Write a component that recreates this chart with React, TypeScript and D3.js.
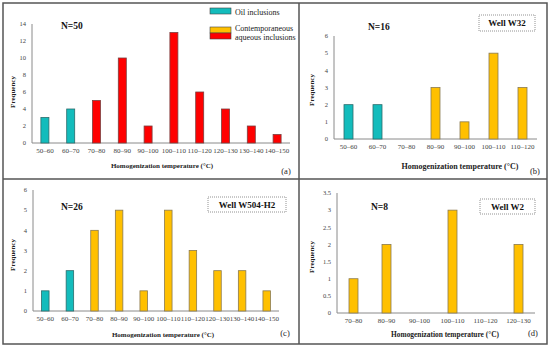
import React from 'react';
import * as d3 from 'd3';

// panel (a) - all samples
const catsA = ['50–60', '60–70', '70–80', '80–90', '90–100', '100–110', '110–120', '120–130', '130–140', '140–150'];
const valsA = [3, 4, 5, 10, 2, 13, 6, 4, 2, 1];
const kindA = ['oil', 'oil', 'aq', 'aq', 'aq', 'aq', 'aq', 'aq', 'aq', 'aq'];

// panel (b) - Well W32
const catsB = ['50–60', '60–70', '70–80', '80–90', '90–100', '100–110', '110–120'];
const valsB = [2, 2, 0, 3, 1, 5, 3];
const kindB = ['oil', 'oil', 'con', 'con', 'con', 'con', 'con'];

// panel (c) - Well W504-H2
const catsC = ['50–60', '60–70', '70–80', '80–90', '90–100', '100–110', '110–120', '120–130', '130–140', '140–150'];
const valsC = [1, 2, 4, 5, 1, 5, 3, 2, 2, 1];
const kindC = ['oil', 'oil', 'con', 'con', 'con', 'con', 'con', 'con', 'con', 'con'];

// panel (d) - Well W2
const catsD = ['70–80', '80–90', '90–100', '100–110', '110–120', '120–130'];
const valsD = [1, 2, 0, 3, 0, 2];
const kindD = ['con', 'con', 'con', 'con', 'con', 'con'];

const legendLabels = ['Oil inclusions', 'Contemporaneous', 'aqueous inclusions'];

const fill: Record<string, string> = { oil: '#13bcbc', con: '#ffc000', aq: '#ff0000' };
const edge: Record<string, string> = { oil: '#2b6c6c', con: '#8a7a50', aq: '#7a4040' };

const serif = '"Liberation Serif", "Times New Roman", serif';

type PanelProps = {
  cats: string[]; vals: number[]; kinds: string[];
  left: number; right: number; top: number; bottom: number;
  yMax: number; yStep: number; barW: number;
  n: string; nx: number; ny: number;
  tag: string; tagX: number; tagY: number;
  titleX: number; titleY: number; titleSize: number; freqX: number; freqY: number;
  well?: { text: string; x0: number; x1: number; y0: number; y1: number };
};

const Panel = (p: PanelProps) => {
  const x = d3.scaleBand().domain(p.cats).range([p.left, p.right]);
  const y = d3.scaleLinear().domain([0, p.yMax]).range([p.bottom, p.top]);
  const ticks = d3.range(0, p.yMax + p.yStep / 2, p.yStep);
  return (
    <g fontFamily={serif}>
      <line x1={p.left} x2={p.left} y1={p.top} y2={p.bottom} stroke="#8a8a8a" strokeWidth={1} />
      <line x1={p.left} x2={p.right} y1={p.bottom} y2={p.bottom} stroke="#8a8a8a" strokeWidth={1} />
      {ticks.map(t => (
        <text key={t} x={p.left - 6} y={y(t)} dy="0.35em" textAnchor="end" fontSize={6.5} fill="#444">{String(+t.toFixed(1))}</text>
      ))}
      {p.cats.map((c, i) => {
        const cx = (x(c) as number) + x.bandwidth() / 2;
        return (
          <g key={c}>
            {p.vals[i] > 0 && (
              <rect x={cx - p.barW / 2} y={y(p.vals[i])} width={p.barW} height={p.bottom - y(p.vals[i])}
                fill={fill[p.kinds[i]]} stroke={edge[p.kinds[i]]} strokeWidth={0.8} />
            )}
            <text x={cx} y={p.bottom + 8} dy="0.35em" textAnchor="middle" fontSize={7} fill="#444">{c}</text>
          </g>
        );
      })}
      <text x={p.titleX} y={p.titleY} dy="0.35em" textAnchor="middle" fontSize={p.titleSize} fontWeight="bold" fill="#222">
        Homogenization temperature (°C)
      </text>
      <text transform={`translate(${p.freqX},${p.freqY}) rotate(-90)`} dy="0.35em" textAnchor="middle" fontSize={7} fontWeight="bold" fill="#222">
        Frequency
      </text>
      <text x={p.nx} y={p.ny} dy="0.35em" fontSize={9.5} fontWeight="bold" fill="#111">{p.n}</text>
      <text x={p.tagX} y={p.tagY} dy="0.35em" textAnchor="middle" fontSize={8.5} fill="#222">{p.tag}</text>
      {p.well && (
        <g>
          <rect x={p.well.x0} y={p.well.y0} width={p.well.x1 - p.well.x0} height={p.well.y1 - p.well.y0}
            fill="#fff" stroke="#777" strokeWidth={0.8} strokeDasharray="1,1" />
          <text x={(p.well.x0 + p.well.x1) / 2} y={(p.well.y0 + p.well.y1) / 2} dy="0.35em" textAnchor="middle"
            fontSize={9} fontWeight="bold" fill="#111">{p.well.text}</text>
        </g>
      )}
    </g>
  );
};

const App = () => {
  const legendKinds = ['oil', 'con', 'aq'];
  const legendY = [8, 27, 33];
  return (
    <svg width={550} height={347} style={{ position: 'absolute', left: 0, top: 0, background: '#fff' }}>
      <rect x={3} y={3} width={544} height={341} fill="#fff" stroke="#555" strokeWidth={1.5} />
      <line x1={299} x2={299} y1={3} y2={344} stroke="#555" strokeWidth={1.5} />
      <line x1={3} x2={547} y1={179} y2={179} stroke="#555" strokeWidth={1.5} />

      <Panel cats={catsA} vals={valsA} kinds={kindA} left={32} right={290} top={24} bottom={143}
        yMax={14} yStep={2} barW={8} n="N=50" nx={61} ny={26} tag="(a)" tagX={286} tagY={171}
        titleX={162} titleY={166} titleSize={7} freqX={13} freqY={92} />
      <Panel cats={catsB} vals={valsB} kinds={kindB} left={334} right={537} top={36} bottom={139}
        yMax={6} yStep={1} barW={9} n="N=16" nx={368} ny={27} tag="(b)" tagX={535} tagY={171}
        titleX={460} titleY={166} titleSize={8} freqX={312} freqY={90}
        well={{ text: 'Well W32', x0: 479, x1: 535, y0: 15, y1: 31 }} />
      <Panel cats={catsC} vals={valsC} kinds={kindC} left={33} right={279} top={190} bottom={311}
        yMax={6} yStep={1} barW={7.5} n="N=26" nx={61} ny={207} tag="(c)" tagX={285} tagY={333}
        titleX={163} titleY={335} titleSize={7} freqX={13} freqY={255}
        well={{ text: 'Well W504-H2', x0: 208, x1: 286, y0: 197, y1: 212 }} />
      <Panel cats={catsD} vals={valsD} kinds={kindD} left={337} right={535} top={193} bottom={313}
        yMax={3.5} yStep={0.5} barW={9} n="N=8" nx={371} ny={207} tag="(d)" tagX={533} tagY={333}
        titleX={445} titleY={334} titleSize={7.4} freqX={312} freqY={257}
        well={{ text: 'Well W2', x0: 480, x1: 535, y0: 199, y1: 214 }} />

      <g fontFamily={serif}>
        {legendKinds.map((k, i) => (
          <rect key={k} x={210} y={legendY[i]} width={21} height={6} fill={fill[k]} stroke="#444" strokeWidth={0.6} />
        ))}
        <text x={235} y={12} dy="0.35em" fontSize={8} fill="#222">{legendLabels[0]}</text>
        <text x={235} y={28.5} dy="0.35em" fontSize={8} fill="#222">{legendLabels[1]}</text>
        <text x={235} y={37} dy="0.35em" fontSize={8} fill="#222">{legendLabels[2]}</text>
      </g>
    </svg>
  );
};

export default App;
